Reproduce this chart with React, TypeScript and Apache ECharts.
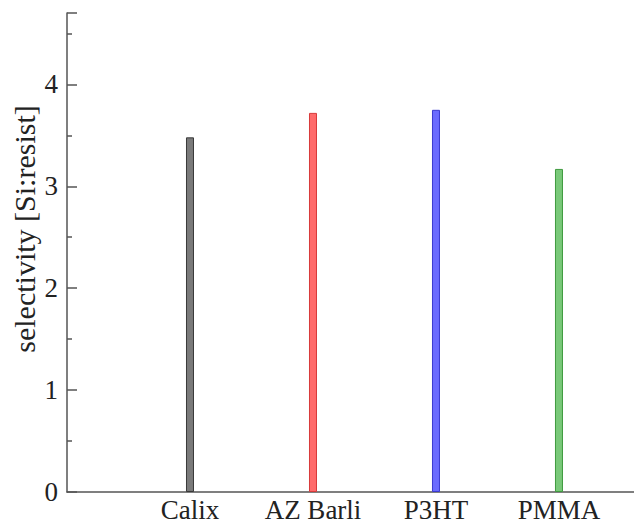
import React, { useEffect, useRef } from "react";
import * as echarts from "echarts";

const categories = ["Calix", "AZ Barli", "P3HT", "PMMA"];
const positions = [1, 2, 3, 4];
const selectivity = [3.48, 3.72, 3.75, 3.17];
const fills = ["#7a7a7a", "#ff6b6b", "#6b6bff", "#79c879"];
const borders = ["#3a3a3a", "#d83a3a", "#3a3ad0", "#3f9a3f"];
const yTicks = [0, 1, 2, 3, 4];
const yTitle = "selectivity [Si:resist]";

export default function App() {
  const ref = useRef<HTMLDivElement>(null);
  useEffect(() => {
    const chart = echarts.init(ref.current!, null, { renderer: "svg" });
    const font = "'Liberation Serif', 'DejaVu Serif', serif";
    chart.setOption({
      animation: false,
      backgroundColor: "#ffffff",
      grid: { left: 67, right: 0, top: 13, bottom: 30, containLabel: false },
      graphic: [
        {
          type: "text",
          x: 24,
          y: 229,
          rotation: Math.PI / 2,
          style: {
            text: yTitle,
            fontFamily: font,
            fontSize: 30,
            fill: "#222222",
            align: "center",
            verticalAlign: "middle",
          },
        },
      ],
      xAxis: {
        type: "value",
        min: 0,
        max: 4.61,
        interval: 1,
        splitLine: { show: false },
        axisTick: { show: false },
        axisLine: { show: true, lineStyle: { color: "#555555", width: 1.5 } },
        axisLabel: {
          showMaxLabel: false,
          fontFamily: font,
          fontSize: 27,
          color: "#222222",
          margin: 4,
          formatter: (v: number) => {
            const i = positions.indexOf(Math.round(v));
            return i >= 0 && Math.abs(v - positions[i]) < 1e-6 ? categories[i] : "";
          },
        },
      },
      yAxis: {
        type: "value",
        min: 0,
        max: 4.7,
        interval: 1,
        splitLine: { show: false },
        axisLine: { show: true, lineStyle: { color: "#555555", width: 1.5 } },
        axisTick: { show: true, inside: true, length: 10, lineStyle: { color: "#555555", width: 1.5 } },
        minorTick: { show: true, splitNumber: 2, length: 5, lineStyle: { color: "#555555", width: 1.5 } },
        axisLabel: {
          showMaxLabel: false,
          fontFamily: font,
          fontSize: 27,
          color: "#222222",
          margin: 9,
          formatter: (v: number) => (yTicks.includes(v) ? String(v) : ""),
        },
      },
      series: [
        {
          type: "bar",
          barWidth: 8,
          data: positions.map((p, i) => ({
            value: [p, selectivity[i]],
            itemStyle: { color: fills[i], borderColor: borders[i], borderWidth: 1 },
          })),
        },
      ],
    });
    return () => chart.dispose();
  }, []);
  return (
    <div
      ref={ref}
      style={{ position: "fixed", left: 0, top: 0, width: 634, height: 523, background: "#fff" }}
    />
  );
}
